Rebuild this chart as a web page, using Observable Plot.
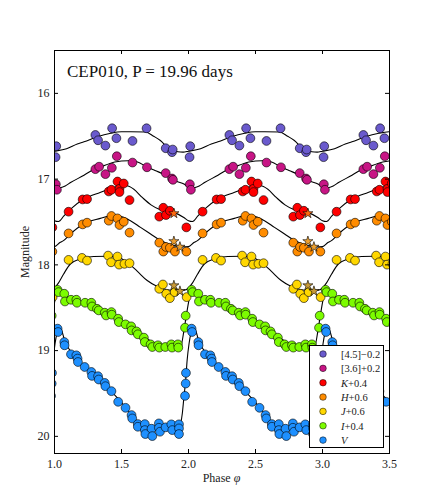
<!DOCTYPE html>
<html><head><meta charset="utf-8">
<script src="https://cdn.jsdelivr.net/npm/d3@7"></script>
<script src="https://cdn.jsdelivr.net/npm/@observablehq/plot@0.6"></script>
<style>body{margin:0;background:#fff}</style>
</head><body><div id="chart"></div>
<script>
// ---------- data (phase in [0,1), magnitude incl. offset) ----------
const seriesNames  = ["[4.5]\u22120.2","[3.6]+0.2","K+0.4","H+0.6","J+0.6","I+0.4","V"];
const seriesItalic = ["", "", "K", "H", "J", "I", "V"];
const seriesRest   = ["[4.5]\u22120.2","[3.6]+0.2","+0.4","+0.6","+0.6","+0.4",""];
const seriesColors = ["#6a5acd","#c71585","#ff0000","#ff8c00","#ffd700","#7cfc00","#1e90ff"];

const irac45Phase = [0.013,0.008,0.305,0.325,0.380,0.430,0.462,0.582,0.687,0.830,0.882,0.877];
const irac45Mag   = [16.616,16.744,16.485,16.547,16.609,16.407,16.523,16.555,16.407,16.640,16.655,16.686];
const irac36Phase = [0.010,0.018,0.305,0.333,0.380,0.428,0.465,0.582,0.690,0.830,0.884,0.877];
const irac36Mag   = [17.060,17.124,16.884,16.855,16.942,16.868,16.733,16.807,16.862,16.930,17.008,16.993];
const kPhase = [0.105,0.210,0.243,0.405,0.425,0.470,0.517,0.485,0.485,0.560,0.812,0.782,0.832,0.861,0.984];
const kMag   = [17.380,17.237,17.233,17.144,17.124,17.028,17.051,17.113,17.151,17.244,17.334,17.438,17.419,17.369,17.563];
const hPhase = [0.105,0.210,0.243,0.405,0.425,0.470,0.517,0.485,0.560,0.782,0.832,0.812,0.861,0.899,0.984];
const hMag   = [17.633,17.528,17.508,17.485,17.430,17.458,17.497,17.535,17.624,17.741,17.791,17.845,17.800,17.845,17.845];
const jPhase = [0.105,0.205,0.243,0.400,0.422,0.470,0.482,0.522,0.560,0.809,0.782,0.834,0.861,0.897,0.986];
const jMag   = [17.942,17.919,17.950,17.892,17.970,17.903,17.997,17.988,17.981,18.229,18.279,18.337,18.388,18.318,18.376];
const iPhase = [0.023,0.030,0.073,0.078,0.123,0.163,0.168,0.228,0.275,0.280,0.317,0.330,0.375,0.385,0.425,0.427,0.475,0.480,0.530,0.572,0.575,0.612,0.622,0.667,0.674,0.717,0.730,0.772,0.782,0.827,0.872,0.877,0.921,0.924,0.974,0.979];
const iMag   = [18.291,18.318,18.337,18.427,18.407,18.407,18.442,18.442,18.442,18.485,18.512,18.531,18.558,18.590,18.551,18.581,18.628,18.667,18.694,18.717,18.764,18.776,18.810,18.849,18.900,18.927,18.958,18.938,18.965,18.958,18.927,18.965,18.927,18.965,18.733,18.593];
const vPhase = [0.023,0.027,0.073,0.075,0.123,0.163,0.172,0.175,0.225,0.275,0.280,0.325,0.330,0.375,0.380,0.425,0.475,0.530,0.575,0.580,0.622,0.622,0.674,0.674,0.678,0.724,0.730,0.779,0.779,0.787,0.829,0.872,0.879,0.929,0.929,0.929,0.974,0.979,0.981];
const vMag   = [18.744,18.783,18.900,18.938,19.043,19.055,19.093,19.133,19.191,19.249,19.295,19.299,19.337,19.377,19.415,19.473,19.597,19.667,19.752,19.791,19.857,19.888,19.857,19.927,19.973,19.911,19.997,19.849,19.900,19.946,19.895,19.860,19.927,19.860,19.907,19.973,19.528,19.384,19.260];

// star-marked observations
const starSeries = [2, 3, 3, 4, 4];
const starPhase  = [0.891,0.891,0.936,0.891,0.936];
const starMag    = [17.400,17.726,17.791,18.241,18.307];
const starColors = ["#ff6a10","#eea030","#eea030","#c89a38","#c89a38"];

// template light curves
const c45Phase = [0.00,0.09,0.17,0.22,0.32,0.42,0.50,0.57,0.68,0.74,0.79,0.85,0.92,0.96];
const c45Mag   = [16.675,16.645,16.59,16.565,16.505,16.465,16.448,16.447,16.45,16.50,16.55,16.64,16.68,16.685];
const c36Phase = [0.00,0.04,0.08,0.12,0.22,0.29,0.34,0.45,0.55,0.62,0.69,0.75,0.82,0.90,0.97];
const c36Mag   = [17.095,17.10,17.08,17.04,16.955,16.89,16.862,16.80,16.785,16.80,16.86,16.90,16.945,17.02,17.06];
const cKPhase = [0.00,0.03,0.07,0.12,0.22,0.34,0.47,0.54,0.59,0.655,0.72,0.79,0.89,0.965];
const cKMag   = [17.485,17.495,17.43,17.35,17.233,17.156,17.086,17.078,17.116,17.214,17.30,17.357,17.388,17.447];
const cHPhase = [0.00,0.04,0.067,0.118,0.217,0.342,0.417,0.492,0.567,0.642,0.717,0.792,0.891,0.966];
const cHMag   = [17.787,17.74,17.717,17.64,17.523,17.458,17.427,17.435,17.485,17.563,17.64,17.717,17.776,17.79];
const cJPhase = [0.00,0.03,0.067,0.118,0.193,0.292,0.392,0.467,0.542,0.617,0.692,0.767,0.842,0.92,0.97];
const cJMag   = [18.27,18.21,18.11,17.99,17.93,17.903,17.90,17.91,17.97,18.074,18.183,18.253,18.29,18.30,18.295];
const cIPhase = [0.00,0.015,0.028,0.065,0.115,0.215,0.315,0.415,0.54,0.666,0.79,0.89,0.94,0.97,0.99];
const cIMag   = [18.44,18.337,18.279,18.318,18.395,18.435,18.493,18.57,18.706,18.842,18.938,18.965,18.958,18.726,18.53];
const cVPhase = [0.004,0.029,0.045,0.08,0.15,0.25,0.35,0.45,0.55,0.62,0.68,0.78,0.88,0.93,0.954,0.966,0.979,0.99];
const cVMag   = [18.92,18.76,18.75,18.90,19.07,19.23,19.37,19.52,19.70,19.84,19.89,19.89,19.89,19.888,19.73,19.54,19.345,19.11];

const xTicks = [1.0,1.5,2.0,2.5,3.0,3.5];
const yTicks = [16,17,18,19,20];
const titleText = "CEP010, P = 19.96 days";

// ---------- build (phase-folded, repeated over cycles) ----------
const cycles = [-1,0,1,2,3];
function fold(phases, mags, s, lo, hi) {
  const out = [];
  for (const k of cycles) phases.forEach((p, i) => {
    const x = p + k;
    if (x >= lo && x <= hi) out.push({phase: x, mag: mags[i], s});
  });
  return out.sort((a, b) => a.phase - b.phase);
}
const ptSets = [[irac45Phase,irac45Mag],[irac36Phase,irac36Mag],[kPhase,kMag],[hPhase,hMag],[jPhase,jMag],[iPhase,iMag],[vPhase,vMag]];
const cvSets = [[c45Phase,c45Mag],[c36Phase,c36Mag],[cKPhase,cKMag],[cHPhase,cHMag],[cJPhase,cJMag],[cIPhase,cIMag],[cVPhase,cVMag]];
const points = ptSets.flatMap(([p, m], s) => fold(p, m, s, 0.95, 3.56));
const curves = cvSets.flatMap(([p, m], s) => fold(p, m, s, 0.8, 3.7));
const stars = [];
for (const k of cycles) starPhase.forEach((p, i) => {
  const x = p + k;
  if (x >= 0.95 && x <= 3.56) stars.push({phase: x, mag: starMag[i], s: starSeries[i], c: starColors[i]});
});

const W = 432, H = 504, mL = 54, mR = 43, mT = 50, mB = 51;
const pw = W - mL - mR, ph = H - mT - mB;
const font = "Liberation Serif, Times New Roman, serif";

const marks = [
  Plot.line(curves, {x: "phase", y: "mag", z: "s", stroke: "#000", strokeWidth: 1.1, curve: "monotone-x", clip: true})
];
for (let s = 0; s < 7; s++) {
  marks.push(Plot.dot(points.filter(d => d.s === s), {x: "phase", y: "mag", r: 4.4, fill: seriesColors[s], fillOpacity: 1, stroke: "#000", strokeWidth: 0.6, clip: true}));
  const st = stars.filter(d => d.s === s);
  if (st.length) marks.push(Plot.dot(st, {x: "phase", y: "mag", symbol: "star", r: 3.2, fill: "c", stroke: "#000", strokeWidth: 0.6, clip: true}));
}
marks.push(
  Plot.frame({stroke: "#000", strokeWidth: 1}),
  Plot.tickY(yTicks, {y: d => d, insetRight: pw - 4, stroke: "#000"}),
  Plot.tickY(yTicks, {y: d => d, insetLeft: pw - 4, stroke: "#000"}),
  Plot.tickX(xTicks, {x: d => d, insetTop: ph - 4, stroke: "#000"}),
  Plot.tickX(xTicks, {x: d => d, insetBottom: ph - 4, stroke: "#000"}),
  Plot.axisX(xTicks, {tickSize: 0, tickPadding: 6, tickFormat: d => d.toFixed(1), label: null, fontSize: 12}),
  Plot.axisY(yTicks, {tickSize: 0, tickPadding: 5, tickFormat: d => String(d), label: null, fontSize: 12})
);

const chart = Plot.plot({
  width: W, height: H,
  marginLeft: mL, marginRight: mR, marginTop: mT, marginBottom: mB,
  style: {fontFamily: font, background: "#fff", color: "#222"},
  x: {domain: [1, 3.5]},
  y: {domain: [15.5, 20.2], reverse: true},
  color: {type: "identity"},
  marks
});

const svg = d3.select(chart);
// title
svg.append("text").attr("x", 67).attr("y", 77).attr("text-anchor", "start").attr("font-family", font).attr("font-size", 17)
  .attr("fill", "#111").text(titleText);
// axis labels
const xl = svg.append("text").attr("x", 221.5).attr("y", 482).attr("text-anchor", "middle")
  .attr("font-family", font).attr("font-size", 12).attr("fill", "#222");
xl.append("tspan").text("Phase ");
xl.append("tspan").attr("font-style", "italic").text("\u03c6");
svg.append("text").attr("transform", "translate(29,252) rotate(-90)").attr("text-anchor", "middle")
  .attr("font-family", font).attr("font-size", 12).attr("fill", "#222").text("Magnitude");
// legend
const lg = svg.append("g").attr("text-anchor", "start");
lg.append("rect").attr("x", 309.5).attr("y", 345.5).attr("width", 74).attr("height", 102)
  .attr("fill", "#fff").attr("stroke", "#000").attr("stroke-width", 1);
seriesNames.forEach((name, i) => {
  const cy = 354 + i * 14.35;
  lg.append("circle").attr("cx", 323).attr("cy", cy).attr("r", 3.3)
    .attr("fill", seriesColors[i]).attr("stroke", "#000").attr("stroke-width", 0.5);
  const t = lg.append("text").attr("x", 341).attr("y", cy + 3.8).attr("text-anchor", "start").attr("font-family", font)
    .attr("font-size", 10.5).attr("fill", "#222");
  if (seriesItalic[i]) t.append("tspan").attr("font-style", "italic").text(seriesItalic[i]);
  if (seriesRest[i]) t.append("tspan").text(seriesRest[i]);
});
document.getElementById("chart").appendChild(chart);
</script>
</body></html>
